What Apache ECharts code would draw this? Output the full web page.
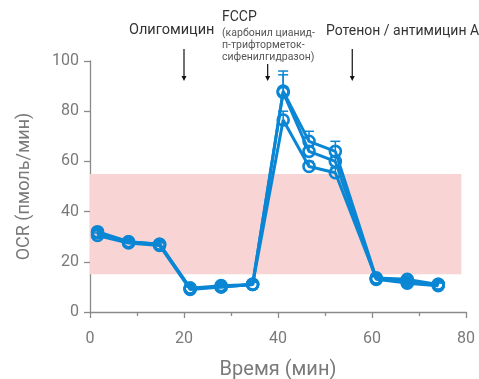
<!DOCTYPE html>
<html><head><meta charset="utf-8">
<script src="https://cdn.jsdelivr.net/npm/echarts@6/dist/echarts.min.js"></script>
<style>html,body{margin:0;padding:0;background:#fff}#c{width:479px;height:379px}</style>
</head><body><div id="c"></div>
<script>
const times = [1.6, 8.2, 14.8, 21.3, 27.9, 34.6, 41.1, 46.6, 52.2, 60.9, 67.5, 74.1];
const seriesA = [32, 28, 27, 9.5, 10.5, 11, 88, 68, 64, 13.5, 13, 11];
const seriesB = [30.5, 27.5, 26.5, 9, 10, 11, 87.5, 64, 60, 13, 11.5, 10.5];
const seriesC = [31.5, 28, 27, 9.5, 10, 11, 76.5, 58, 55.5, 13.5, 12, 11];
const errA = [1, 1, 1, 1, 1, 1, 8, 4, 4, 1, 1, 1];
const errB = [1, 1, 1, 1, 1, 1, 7, 2, 2, 1, 1, 1];
const errC = [1, 1, 1, 1, 1, 1, 3.5, 2, 2, 1, 1, 1];
const bandLow = 15, bandHigh = 55, bandStart = 0, bandEnd = 79;
const xTicks = [0, 20, 40, 60, 80];
const yTicks = [0, 20, 40, 60, 80, 100];
const arrowTimes = [20, 37.8, 55.8];

const BLUE = '#0a86d4';
const FONT = 'Roboto';
const chart = echarts.init(document.getElementById('c'), null, {renderer: 'canvas'});

function lineSeries(vals) {
  return {
    type: 'line',
    data: times.map((t, i) => [t, vals[i]]),
    symbol: 'circle', symbolSize: 11,
    lineStyle: {color: BLUE, width: 3},
    itemStyle: {color: 'rgba(0,0,0,0)', borderColor: BLUE, borderWidth: 2.6},
    z: 3, animation: false
  };
}
function errSeries(vals, errs) {
  return {
    type: 'custom',
    data: times.map((t, i) => [t, vals[i], vals[i] + errs[i]]),
    renderItem: function (params, api) {
      const p0 = api.coord([api.value(0), api.value(1)]);
      const p1 = api.coord([api.value(0), api.value(2)]);
      return {
        type: 'group',
        children: [
          {type: 'line', shape: {x1: p0[0], y1: p0[1], x2: p1[0], y2: p1[1]}, style: {stroke: BLUE, lineWidth: 1.5}},
          {type: 'line', shape: {x1: p1[0] - 5, y1: p1[1], x2: p1[0] + 5, y2: p1[1]}, style: {stroke: BLUE, lineWidth: 1.5}}
        ]
      };
    },
    z: 2, animation: false
  };
}

const first = lineSeries(seriesA);
first.markArea = {
  silent: true,
  itemStyle: {color: '#f8d4d4'},
  data: [[{coord: [bandStart, bandLow]}, {coord: [bandEnd, bandHigh]}]]
};

chart.setOption({
  animation: false,
  grid: {left: 90, right: 13, top: 61, bottom: 67, containLabel: false, outerBoundsMode: 'none'},
  xAxis: {
    type: 'value', min: 0, max: 80, interval: 20,
    name: 'Время (мин)', nameLocation: 'middle', nameGap: 48,
    nameTextStyle: {fontFamily: FONT, fontSize: 20, color: '#7a7a7a'},
    axisLine: {lineStyle: {color: '#8a8a8a', width: 1.3}},
    axisTick: {length: 6, lineStyle: {color: '#8a8a8a', width: 1.3}},
    minorTick: {show: true, splitNumber: 2, length: 4, lineStyle: {color: '#8a8a8a', width: 1.3}},
    axisLabel: {fontFamily: FONT, fontSize: 16, color: '#7a7a7a', margin: 19,
      formatter: v => xTicks.includes(v) ? String(v) : ''},
    splitLine: {show: false}
  },
  yAxis: {
    type: 'value', min: 0, max: 100, interval: 20,
    name: 'OCR (пмоль/мин)', nameLocation: 'middle', nameGap: 57,
    nameTextStyle: {fontFamily: FONT, fontSize: 18, color: '#7a7a7a'},
    axisLine: {show: true, lineStyle: {color: '#8a8a8a', width: 1.3}},
    axisTick: {show: true, length: 6, lineStyle: {color: '#8a8a8a', width: 1.3}},
    axisLabel: {fontFamily: FONT, fontSize: 16, color: '#7a7a7a', margin: 11,
      formatter: v => yTicks.includes(v) ? String(v) : ''},
    splitLine: {show: false}
  },
  series: [
    first, lineSeries(seriesB), lineSeries(seriesC),
    errSeries(seriesA, errA), errSeries(seriesB, errB), errSeries(seriesC, errC)
  ]
});

const ax = arrowTimes.map(t => chart.convertToPixel({gridIndex: 0}, [t, 0])[0]);
function arrow(x, y1, y2) {
  return [
    {type: 'line', shape: {x1: x, y1: y1, x2: x, y2: y2 - 2}, style: {stroke: '#111', lineWidth: 1.2}},
    {type: 'polygon', shape: {points: [[x - 2.5, y2 - 5], [x + 2.5, y2 - 5], [x, y2]]}, style: {fill: '#111'}}
  ];
}
chart.setOption({
  graphic: [
    {type: 'text', left: 129, top: 23, style: {text: 'Олигомицин', font: '14.5px ' + FONT, fill: '#333'}},
    {type: 'text', left: 222, top: 10, style: {text: 'FCCP', font: '14px ' + FONT, fill: '#333'}},
    {type: 'text', left: 222, top: 27, style: {text: '(карбонил цианид-\nп-трифторметок-\nсифенилгидразон)', font: '10.5px ' + FONT, fill: '#555', lineHeight: 12}},
    {type: 'text', left: 326, top: 24, style: {text: 'Ротенон / антимицин А', font: '14px ' + FONT, fill: '#333'}},
    ...arrow(ax[0], 49, 81),
    ...arrow(ax[1], 64, 81),
    ...arrow(ax[2], 49, 81)
  ]
});
</script></body></html>
